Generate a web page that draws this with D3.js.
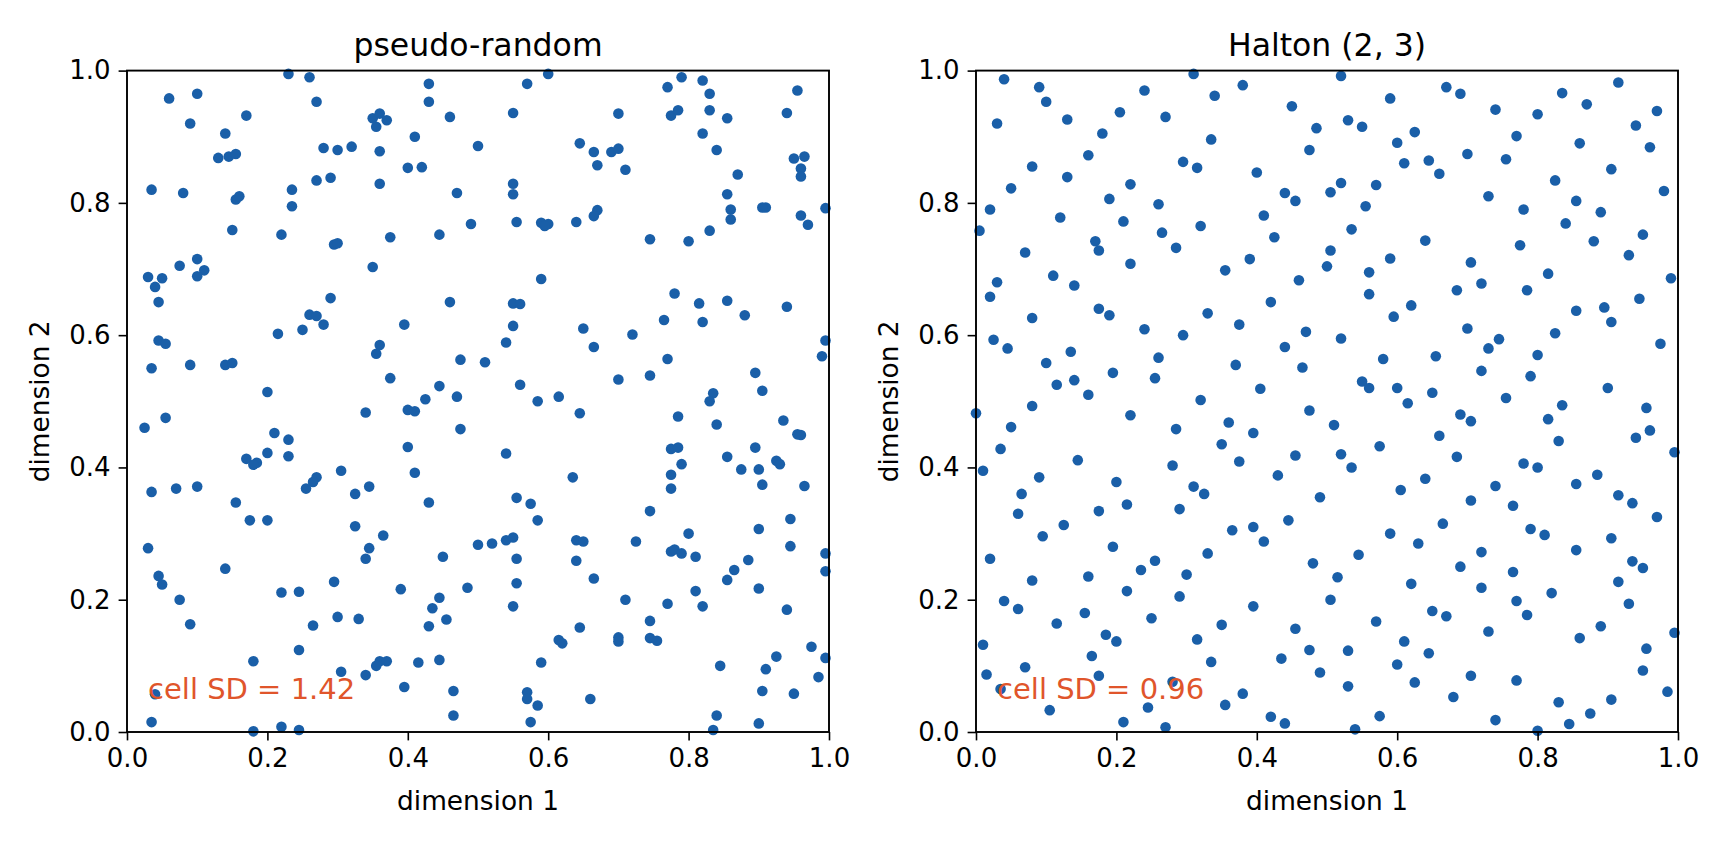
<!DOCTYPE html>
<html>
<head>
<meta charset="utf-8">
<script src="https://cdn.jsdelivr.net/npm/d3@7"></script>
<style>
  body { margin: 0; background: #fff; overflow: hidden; }
  text { font-family: "DejaVu Sans", sans-serif; }
</style>
</head>
<body>
<script>
// values: [dimension 1, dimension 2]
const pseudoPoints = [
  [0.23,0.995],[0.26,0.99],[0.60,0.995],[0.57,0.98],[0.43,0.98],[0.77,0.975],[0.79,0.99],[0.82,0.985],[0.83,0.965],[0.955,0.97],
  [0.06,0.958],[0.10,0.965],[0.27,0.953],[0.43,0.953],[0.17,0.932],[0.35,0.928],[0.36,0.935],[0.37,0.925],[0.46,0.93],[0.55,0.936],
  [0.70,0.935],[0.775,0.932],[0.785,0.94],[0.83,0.94],[0.855,0.928],[0.94,0.936],[0.09,0.92],[0.355,0.915],[0.14,0.905],[0.41,0.90],[0.82,0.905],
  [0.13,0.868],[0.145,0.87],[0.155,0.874],[0.28,0.883],[0.30,0.88],[0.32,0.885],[0.36,0.878],[0.50,0.886],[0.645,0.89],[0.665,0.877],
  [0.69,0.877],[0.70,0.882],[0.84,0.88],[0.95,0.867],[0.965,0.87],[0.96,0.852],[0.96,0.84],[0.67,0.857],[0.71,0.85],[0.87,0.843],
  [0.27,0.834],[0.29,0.838],[0.36,0.829],[0.40,0.853],[0.42,0.854],[0.55,0.829],[0.035,0.82],[0.08,0.815],[0.155,0.805],[0.16,0.81],
  [0.235,0.82],[0.47,0.815],[0.55,0.813],[0.855,0.813],[0.86,0.79],[0.235,0.795],[0.67,0.789],
  [0.91,0.793],[0.905,0.793],[0.995,0.792],[0.96,0.781],[0.97,0.767],[0.86,0.775],[0.665,0.78],[0.555,0.771],[0.59,0.77],[0.60,0.768],
  [0.595,0.765],[0.64,0.771],[0.49,0.768],[0.15,0.759],[0.22,0.752],[0.375,0.748],[0.445,0.752],[0.745,0.745],[0.80,0.742],[0.83,0.758],
  [0.295,0.737],[0.30,0.739],[0.10,0.715],[0.075,0.705],[0.11,0.698],[0.10,0.689],[0.35,0.703],[0.03,0.688],[0.04,0.673],[0.05,0.686],[0.045,0.65],
  [0.59,0.685],[0.78,0.663],[0.26,0.631],[0.27,0.629],[0.29,0.656],[0.46,0.65],[0.55,0.648],[0.56,0.647],[0.815,0.648],[0.855,0.652],
  [0.88,0.63],[0.765,0.623],[0.82,0.62],[0.28,0.616],[0.25,0.608],[0.215,0.602],[0.395,0.616],[0.55,0.614],[0.65,0.61],[0.72,0.601],[0.94,0.643],[0.995,0.592],
  [0.045,0.592],[0.055,0.587],[0.36,0.585],[0.355,0.572],[0.54,0.589],[0.665,0.582],[0.77,0.564],[0.035,0.55],[0.09,0.555],[0.14,0.555],
  [0.15,0.558],[0.475,0.563],[0.51,0.559],[0.745,0.539],[0.375,0.535],[0.70,0.533],[0.99,0.568],[0.56,0.525],[0.445,0.523],[0.20,0.514],
  [0.835,0.512],[0.83,0.50],[0.905,0.516],[0.895,0.543],[0.425,0.503],[0.47,0.507],[0.585,0.5],[0.615,0.507],
  [0.025,0.46],[0.055,0.475],[0.34,0.483],[0.40,0.487],[0.41,0.485],[0.645,0.482],[0.785,0.477],[0.84,0.465],[0.935,0.471],[0.21,0.452],
  [0.475,0.458],[0.955,0.45],[0.96,0.449],[0.23,0.442],[0.40,0.431],[0.775,0.428],[0.785,0.43],[0.895,0.43],[0.54,0.421],[0.17,0.413],
  [0.185,0.407],[0.18,0.404],[0.20,0.422],[0.23,0.417],[0.79,0.405],[0.855,0.416],[0.875,0.397],[0.90,0.397],[0.925,0.41],[0.93,0.405],
  [0.035,0.363],[0.07,0.368],[0.10,0.371],[0.27,0.385],[0.265,0.378],[0.305,0.395],[0.41,0.392],[0.635,0.385],[0.775,0.389],[0.905,0.374],
  [0.965,0.372],[0.775,0.368],[0.255,0.368],[0.325,0.36],[0.345,0.371],[0.555,0.354],[0.575,0.345],[0.155,0.347],[0.43,0.347],[0.745,0.334],
  [0.175,0.32],[0.20,0.32],[0.585,0.32],[0.945,0.322],[0.325,0.311],[0.80,0.30],[0.365,0.297],[0.90,0.307],
  [0.03,0.278],[0.345,0.278],[0.50,0.283],[0.52,0.285],[0.54,0.29],[0.55,0.294],[0.64,0.29],[0.65,0.288],[0.725,0.288],[0.775,0.273],
  [0.78,0.276],[0.79,0.27],[0.81,0.265],[0.945,0.281],[0.995,0.27],[0.34,0.262],[0.45,0.265],[0.555,0.262],[0.64,0.259],[0.885,0.26],
  [0.045,0.236],[0.14,0.247],[0.865,0.245],[0.995,0.243],[0.05,0.223],[0.295,0.227],[0.555,0.225],[0.665,0.232],[0.855,0.23],[0.39,0.216],
  [0.485,0.218],[0.22,0.211],[0.245,0.212],[0.81,0.213],[0.90,0.217],[0.075,0.2],[0.445,0.203],[0.71,0.2],
  [0.55,0.19],[0.77,0.194],[0.82,0.19],[0.94,0.185],[0.435,0.187],[0.09,0.163],[0.265,0.161],[0.30,0.174],[0.33,0.171],[0.43,0.16],
  [0.455,0.17],[0.645,0.158],[0.745,0.168],[0.70,0.143],[0.70,0.137],[0.745,0.142],[0.755,0.138],[0.615,0.139],[0.62,0.134],[0.975,0.129],
  [0.245,0.124],[0.925,0.114],[0.995,0.112],[0.18,0.107],[0.36,0.107],[0.37,0.107],[0.355,0.1],[0.415,0.105],[0.445,0.109],[0.59,0.105],
  [0.845,0.1],[0.91,0.095],
  [0.305,0.091],[0.34,0.086],[0.985,0.083],[0.395,0.068],[0.465,0.062],[0.905,0.062],[0.95,0.058],[0.57,0.06],[0.57,0.05],[0.66,0.05],
  [0.585,0.04],[0.04,0.057],[0.84,0.025],[0.465,0.025],[0.035,0.015],[0.575,0.015],[0.90,0.013],[0.22,0.008],[0.18,0.001],[0.245,0.003],[0.835,0.003]
];

const haltonPoints = [
  [0.31,0.995],[0.52,0.992],[0.04,0.987],[0.915,0.982],[0.09,0.975],[0.67,0.975],[0.38,0.978],[0.69,0.965],[0.24,0.97],[0.835,0.966],
  [0.34,0.962],[0.10,0.953],[0.59,0.958],[0.45,0.946],[0.74,0.941],[0.87,0.949],[0.80,0.934],[0.97,0.939],[0.205,0.937],[0.27,0.93],
  [0.53,0.925],[0.13,0.926],[0.55,0.915],[0.94,0.917],[0.03,0.92],[0.485,0.913],[0.625,0.907],[0.18,0.905],[0.77,0.901],
  [0.335,0.896],[0.60,0.891],[0.86,0.89],[0.96,0.884],[0.475,0.88],[0.70,0.874],[0.16,0.872],[0.295,0.862],[0.61,0.86],[0.645,0.864],
  [0.755,0.866],[0.08,0.855],[0.315,0.853],[0.905,0.851],[0.40,0.846],[0.66,0.844],[0.13,0.839],[0.52,0.83],[0.57,0.827],[0.825,0.834],
  [0.22,0.828],[0.05,0.822],[0.98,0.818],[0.44,0.815],[0.505,0.816],[0.73,0.81],[0.855,0.803],[0.19,0.806],[0.455,0.803],[0.26,0.798],
  [0.02,0.79],[0.555,0.795],[0.78,0.79],[0.89,0.786],[0.41,0.781],[0.12,0.778],[0.21,0.772],[0.84,0.769],[0.32,0.765],[0.005,0.758],
  [0.265,0.755],[0.95,0.752],[0.425,0.748],[0.64,0.743],[0.535,0.76],[0.17,0.742],[0.775,0.736],[0.88,0.742],[0.285,0.732],[0.175,0.728],
  [0.505,0.728],[0.07,0.725],[0.59,0.716],[0.39,0.715],[0.93,0.721],[0.705,0.71],[0.22,0.708],[0.50,0.704],[0.355,0.698],
  [0.815,0.693],[0.56,0.695],[0.11,0.69],[0.99,0.686],[0.46,0.683],[0.72,0.678],[0.03,0.68],[0.14,0.675],[0.685,0.668],[0.785,0.668],
  [0.56,0.662],[0.02,0.658],[0.42,0.65],[0.62,0.645],[0.945,0.655],[0.855,0.637],[0.175,0.64],[0.19,0.63],[0.595,0.628],[0.33,0.633],
  [0.895,0.642],[0.08,0.626],[0.375,0.616],[0.905,0.62],[0.24,0.609],[0.47,0.605],[0.70,0.61],[0.825,0.603],[0.025,0.593],[0.295,0.6],
  [0.52,0.595],[0.745,0.594],
  [0.045,0.58],[0.975,0.587],[0.73,0.58],[0.44,0.582],[0.135,0.575],[0.37,0.555],[0.80,0.57],[0.655,0.568],[0.58,0.564],[0.26,0.566],
  [0.10,0.558],[0.465,0.551],[0.195,0.543],[0.72,0.546],[0.255,0.535],[0.55,0.53],[0.79,0.538],[0.14,0.532],[0.115,0.525],[0.60,0.52],
  [0.405,0.519],[0.56,0.52],[0.9,0.52],[0.16,0.51],[0.65,0.513],[0.755,0.505],[0.32,0.502],[0.615,0.497],[0.835,0.494],[0.08,0.493],
  [0.0,0.482],[0.955,0.49],[0.475,0.486],[0.69,0.48],[0.22,0.479],[0.36,0.468],[0.705,0.47],[0.815,0.473],[0.05,0.461],[0.51,0.464],
  [0.285,0.458],[0.96,0.456],[0.395,0.452],[0.66,0.448],[0.94,0.445],[0.035,0.428],[0.35,0.435],[0.575,0.432],[0.83,0.44],[0.455,0.418],
  [0.52,0.42],[0.685,0.416],[0.145,0.411],[0.78,0.406],[0.375,0.409],[0.28,0.403],[0.535,0.4],[0.80,0.4],[0.995,0.423],[0.01,0.395],
  [0.09,0.385],[0.20,0.378],[0.43,0.388],[0.64,0.383],[0.885,0.389],[0.855,0.375],[0.74,0.372],[0.31,0.371],[0.325,0.36],[0.065,0.36],
  [0.605,0.366],[0.915,0.358],[0.175,0.334],[0.215,0.344],[0.29,0.337],[0.49,0.355],[0.705,0.35],[0.765,0.342],[0.935,0.346],[0.06,0.33],
  [0.445,0.32],[0.665,0.315],[0.97,0.325],[0.125,0.313],[0.365,0.305],[0.395,0.31],[0.79,0.307],[0.59,0.3],[0.095,0.296],[0.81,0.298],[0.905,0.293],
  [0.63,0.285],[0.41,0.288],[0.195,0.28],[0.545,0.268],[0.33,0.27],[0.855,0.275],[0.72,0.272],[0.02,0.262],[0.255,0.259],[0.48,0.255],
  [0.69,0.25],[0.235,0.245],[0.935,0.258],[0.95,0.248],[0.3,0.238],[0.16,0.235],[0.515,0.234],[0.765,0.242],[0.08,0.229],[0.915,0.227],
  [0.62,0.224],[0.72,0.218],[0.215,0.213],[0.29,0.205],[0.04,0.198],[0.395,0.19],[0.505,0.2],[0.77,0.198],[0.93,0.194],[0.06,0.186],[0.82,0.21],
  [0.155,0.18],[0.65,0.183],[0.67,0.175],[0.785,0.177],[0.25,0.172],[0.57,0.167],[0.35,0.162],[0.115,0.164],[0.89,0.16],[0.455,0.156],
  [0.73,0.152],[0.185,0.147],[0.2,0.137],[0.315,0.14],[0.61,0.137],[0.86,0.142],[0.995,0.15],[0.01,0.132],[0.475,0.124],[0.53,0.123],
  [0.955,0.126],[0.645,0.119],[0.165,0.115],[0.435,0.111],[0.335,0.106],[0.6,0.102],[0.07,0.098],
  [0.015,0.087],[0.175,0.085],[0.705,0.085],[0.95,0.093],[0.49,0.09],[0.28,0.076],[0.625,0.075],[0.77,0.078],[0.53,0.069],[0.035,0.065],
  [0.985,0.061],[0.38,0.058],[0.68,0.053],[0.905,0.049],[0.83,0.045],[0.355,0.041],[0.245,0.037],[0.105,0.033],[0.875,0.028],[0.42,0.023],
  [0.575,0.024],[0.74,0.018],[0.21,0.015],[0.44,0.013],[0.845,0.012],[0.27,0.007],[0.54,0.004],[0.80,0.002]
];

const panelTitles = ['pseudo-random', 'Halton (2, 3)'];
const cellSD = ['1.42', '0.96'];
const tickValues = [0, 0.2, 0.4, 0.6, 0.8, 1.0];

const width = 1728;
const height = 864;
const plotTop = 70.6;
const plotBottom = 732;
const panelLeft = [127, 976];
const panelWidth = 702;

const svg = d3.select('body')
  .append('svg')
  .attr('width', width)
  .attr('height', height);

const drawPanel = (points, i) => {
  const x = d3.scaleLinear().domain([0, 1]).range([panelLeft[i], panelLeft[i] + panelWidth]);
  const y = d3.scaleLinear().domain([0, 1]).range([plotBottom, plotTop]);
  const g = svg.append('g');

  g.append('g')
    .selectAll('circle')
    .data(points)
    .enter()
    .append('circle')
    .attr('cx', d => x(d[0]))
    .attr('cy', d => y(d[1]))
    .attr('r', 5.3)
    .style('fill', '#1a5fa8');

  const xAxis = d3.axisBottom(x)
    .tickValues(tickValues)
    .tickSize(8.4)
    .tickPadding(8)
    .tickFormat(d3.format('.1f'));
  const yAxis = d3.axisLeft(y)
    .tickValues(tickValues)
    .tickSize(8.4)
    .tickPadding(8)
    .tickFormat(d3.format('.1f'));

  [g.append('g').attr('transform', `translate(0,${plotBottom})`).call(xAxis),
   g.append('g').attr('transform', `translate(${panelLeft[i]},0)`).call(yAxis)]
    .forEach(a => {
      a.select('.domain').remove();
      a.selectAll('line').attr('stroke', '#000').attr('stroke-width', 1.6);
      a.selectAll('text').style('font-size', '26px').style('font-family', '"DejaVu Sans", sans-serif').attr('fill', '#000');
    });

  // frame
  g.append('rect')
    .attr('x', x(0))
    .attr('y', y(1))
    .attr('width', x(1) - x(0))
    .attr('height', y(0) - y(1))
    .attr('fill', 'none')
    .attr('stroke', '#000')
    .attr('stroke-width', 1.9);

  g.append('text')
    .attr('x', (x(0) + x(1)) / 2)
    .attr('y', 56)
    .attr('text-anchor', 'middle')
    .style('font-size', '31.5px')
    .text(panelTitles[i]);

  g.append('text')
    .attr('x', (x(0) + x(1)) / 2)
    .attr('y', 810)
    .attr('text-anchor', 'middle')
    .style('font-size', '26.4px')
    .text('dimension 1');

  g.append('text')
    .attr('transform', `translate(${panelLeft[i] - 78},${(plotTop + plotBottom) / 2}) rotate(-90)`)
    .attr('text-anchor', 'middle')
    .style('font-size', '26.4px')
    .text('dimension 2');

  g.append('text')
    .attr('x', x(0.03))
    .attr('y', y(0.05))
    .style('font-size', '29px')
    .attr('fill', '#e0552b')
    .text(`cell SD = ${cellSD[i]}`);
};

drawPanel(pseudoPoints, 0);
drawPanel(haltonPoints, 1);
</script>
</body>
</html>
